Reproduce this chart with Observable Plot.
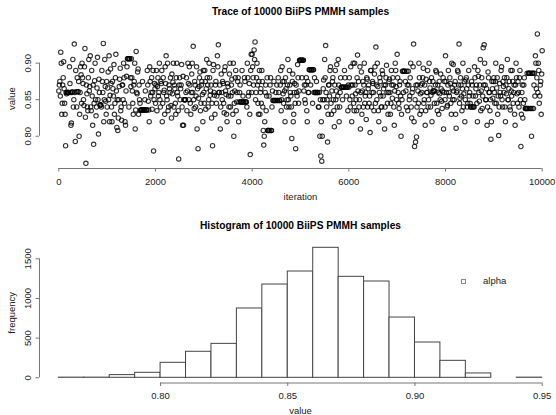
<!DOCTYPE html>
<html>
<head>
<meta charset="utf-8">
<script src="https://cdn.jsdelivr.net/npm/d3@7"></script>
<script src="https://cdn.jsdelivr.net/npm/@observablehq/plot@0.6"></script>
<style>
  html, body { margin: 0; padding: 0; background: #fff; }
  #wrap { position: relative; width: 556px; height: 415px; overflow: hidden; font-family: "Liberation Sans", Arial, sans-serif; }
  #wrap svg { display: block; }
  #legend { position: absolute; left: 460px; top: 273px; font-size: 9.5px; color: #222; }
  #legend .sq { position: absolute; left: 1px; top: 6px; width: 3px; height: 3px; border: 1px solid #888; }
  #legend .lab { position: absolute; left: 23px; top: 2px; }
</style>
</head>
<body>
<div id="wrap"></div>
<script>
// ---------- data ----------
const traceTitle = "Trace of 10000 BiiPS PMMH samples";
const histTitle = "Histogram of 10000 BiiPS PMMH samples";
const iterStep = 20; // thinned trace: values at iterations 0,20,40,... (A) and 10,30,50,... (B)
const traceValuesA = [
.862,.875,.915,.83,.87,.902,.845,.787,.858,.86,.86,.895,.86,.818,.861,.84,.926,.793,.861,.88,.861,.80,.86,.884,.90,
.872,.842,.92,.763,.858,.835,.905,.868,.84,.89,.815,.789,.876,.85,.84,.908,.803,.86,.842,.84,.875,.927,.85,.868,.83,
.84,.888,.91,.856,.872,.82,.865,.898,.845,.912,.812,.808,.85,.878,.835,.822,.87,.9,.845,.815,.882,.906,.906,.906,.88,
.906,.862,.83,.875,.81,.916,.858,.892,.87,.845,.836,.836,.836,.836,.85,.836,.836,.87,.836,.895,.855,.88,.86,.78,.872,
.845,.89,.868,.855,.9,.84,.872,.82,.88,.863,.895,.91,.85,.835,.87,.86,.842,.885,.874,.84,.865,.83,.9,.855,.769,
.88,.865,.898,.815,.815,.85,.85,.88,.862,.872,.895,.845,.86,.9,.923,.838,.87,.855,.81,.783,.868,.888,.845,.875,.82,
.86,.89,.837,.905,.87,.85,.88,.862,.825,.787,.898,.856,.87,.845,.91,.925,.86,.81,.885,.85,.872,.832,.895,.857,.82,
.868,.84,.9,.855,.878,.83,.80,.862,.89,.847,.875,.82,.86,.847,.847,.847,.847,.88,.847,.847,.9,.855,.872,.775,.912,
.912,.88,.918,.929,.86,.9,.845,.875,.83,.865,.89,.84,.788,.82,.87,.855,.808,.808,.808,.88,.808,.862,.849,.849,.849,
.849,.849,.88,.849,.87,.835,.895,.858,.875,.82,.865,.85,.905,.84,.87,.855,.797,.885,.83,.872,.783,.86,.898,.845,.904,
.904,.904,.904,.904,.87,.845,.88,.82,.86,.891,.891,.891,.891,.891,.86,.86,.86,.86,.86,.84,.80,.773,.766,.85,.877,
.905,.924,.84,.792,.87,.855,.895,.83,.875,.85,.813,.89,.862,.84,.905,.82,.86,.867,.867,.867,.867,.88,.867,.867,.835,
.867,.85,.895,.82,.87,.845,.9,.858,.835,.911,.875,.85,.81,.888,.862,.84,.9,.855,.823,.878,.865,.845,.805,.89,.86,
.872,.835,.895,.922,.85,.868,.82,.88,.855,.84,.885,.865,.81,.87,.897,.845,.86,.878,.83,.89,.852,.87,.815,.9,.868,
.912,.86,.838,.875,.80,.85,.889,.889,.889,.862,.889,.835,.87,.855,.9,.825,.865,.926,.786,.792,.799,.87,.845,.88,.858,
.835,.872,.893,.85,.815,.878,.86,.84,.9,.866,.856,.82,.875,.862,.862,.89,.845,.87,.83,.858,.885,.848,.862,.81,.875,
.91,.86,.842,.89,.855,.872,.83,.866,.898,.85,.875,.811,.862,.888,.926,.852,.87,.835,.9,.858,.82,.877,.865,.845,.89,
.86,.84,.875,.84,.84,.895,.855,.87,.82,.882,.848,.905,.862,.838,.921,.925,.87,.85,.815,.888,.86,.835,.796,.875,.852,
.88,.845,.9,.866,.83,.801,.872,.855,.895,.84,.868,.88,.82,.858,.905,.85,.875,.836,.862,.89,.845,.87,.815,.9,.858,
.875,.84,.89,.786,.86,.825,.87,.85,.838,.838,.838,.886,.886,.838,.80,.886,.838,.886,.91,.865,.94,.9,.845,.87,.83,
.917
];
const traceValuesB = [
.87,.855,.9,.845,.88,.865,.83,.86,.86,.86,.86,.872,.815,.86,.905,.85,.86,.89,.84,.861,.875,.83,.895,.845,.88,
.85,.895,.826,.87,.84,.88,.862,.91,.835,.855,.87,.845,.9,.828,.866,.85,.878,.843,.843,.89,.86,.82,.905,.848,.875,
.866,.85,.82,.892,.84,.875,.855,.83,.88,.862,.85,.825,.868,.893,.84,.87,.85,.88,.82,.862,.895,.906,.84,.906,.868,
.88,.845,.87,.9,.836,.86,.888,.83,.85,.836,.836,.875,.836,.836,.862,.836,.89,.848,.82,.875,.86,.837,.89,.85,.865,
.87,.835,.88,.86,.85,.875,.89,.845,.86,.83,.872,.855,.9,.84,.865,.88,.825,.858,.9,.87,.845,.88,.86,.835,.87,
.85,.87,.84,.882,.85,.85,.86,.835,.9,.85,.87,.83,.885,.86,.85,.875,.84,.895,.865,.852,.88,.835,.87,.857,.89,
.845,.875,.865,.88,.84,.9,.856,.87,.845,.89,.86,.83,.875,.855,.895,.86,.87,.84,.86,.875,.845,.89,.862,.83,.872,
.855,.885,.84,.87,.86,.9,.845,.88,.835,.86,.88,.847,.87,.847,.89,.855,.847,.875,.847,.84,.88,.86,.83,.89,.86,
.895,.87,.905,.85,.88,.87,.83,.89,.86,.845,.875,.808,.80,.86,.835,.88,.808,.855,.87,.808,.84,.849,.875,.849,.86,
.87,.849,.86,.849,.89,.85,.875,.845,.862,.88,.84,.87,.85,.89,.86,.84,.875,.82,.86,.845,.87,.855,.88,.862,.904,
.904,.88,.904,.862,.85,.87,.835,.875,.86,.891,.87,.891,.845,.891,.88,.86,.875,.86,.84,.86,.85,.82,.80,.865,.85,
.88,.86,.85,.83,.87,.89,.845,.862,.88,.835,.87,.85,.898,.855,.87,.84,.88,.867,.85,.867,.89,.867,.855,.867,.87,
.88,.84,.87,.855,.9,.835,.87,.85,.88,.862,.84,.895,.86,.83,.875,.87,.845,.86,.88,.84,.87,.855,.89,.84,.875,
.86,.885,.845,.87,.9,.835,.86,.875,.84,.89,.855,.87,.84,.88,.86,.83,.875,.86,.845,.87,.88,.84,.862,.89,.85,
.88,.845,.87,.855,.83,.889,.86,.889,.875,.84,.87,.889,.85,.88,.84,.86,.895,.82,.85,.87,.84,.862,.9,.83,.87,
.86,.88,.845,.87,.835,.86,.89,.85,.875,.84,.88,.86,.862,.845,.87,.888,.835,.86,.875,.85,.865,.838,.88,.86,.85,
.875,.84,.87,.86,.88,.845,.9,.85,.862,.87,.83,.86,.89,.87,.845,.88,.855,.865,.84,.875,.85,.88,.84,.87,.855,
.845,.84,.87,.855,.84,.88,.865,.845,.89,.86,.87,.835,.88,.855,.87,.9,.85,.865,.84,.88,.86,.85,.82,.865,.875,
.86,.875,.845,.88,.855,.84,.86,.89,.85,.875,.86,.84,.87,.88,.85,.865,.84,.89,.855,.875,.86,.83,.87,.88,.845,
.86,.88,.85,.83,.87,.845,.88,.838,.838,.886,.838,.886,.838,.886,.838,.886,.87,.855,.9,.88,.86,.89,.855,.875,.885
];
const traceXTicks = [0, 2000, 4000, 6000, 8000, 10000];
const traceYTicks = [0.80, 0.85, 0.90];

const histBreaks = [0.76,0.77,0.78,0.79,0.80,0.81,0.82,0.83,0.84,0.85,0.86,0.87,0.88,0.89,0.90,0.91,0.92,0.93,0.94,0.95];
const histCounts = [2,2,34,63,189,328,428,874,1176,1340,1639,1273,1214,760,445,214,55,0,2];
const histXTicks = [0.80, 0.85, 0.90, 0.95];
const histYTicks = [0, 500, 1000, 1500];
const legendLabel = "alpha";

// ---------- helpers ----------
const FONT = "Liberation Sans, Arial, Helvetica, sans-serif";
const TEXT = "#222";
const AXIS = "#777";
const expand = ([a, b]) => { const r = b - a; return [a - 0.04 * r, b + 0.04 * r]; };
const mid = ([a, b]) => (a + b) / 2;

function panel({title, xDom, yDom, xRange, yRange, height, mTop, mBottom, xTicks, yTicks, xFmt, yFmt, xLabel, yLabel, data}) {
  return Plot.plot({
    width: 556, height,
    marginLeft: 39, marginRight: 0, marginTop: mTop, marginBottom: mBottom,
    style: {fontFamily: FONT, fontSize: "9.5px", color: AXIS, background: "white", overflow: "visible"},
    x: {domain: xDom, range: xRange, ticks: xTicks, tickSize: 3.5, tickFormat: () => "", label: null},
    y: {domain: yDom, range: yRange, ticks: yTicks, tickSize: 3.5, tickFormat: () => "", label: null},
    marks: [
      ...data,
      Plot.ruleY([yDom[0]], {x1: xTicks[0], x2: xTicks[xTicks.length - 1], stroke: AXIS, strokeWidth: 1}),
      Plot.ruleX([xDom[0]], {y1: yTicks[0], y2: yTicks[yTicks.length - 1], stroke: AXIS, strokeWidth: 1}),
      Plot.text(xTicks, {x: d => d, y: yDom[0], dy: 13, text: xFmt, fill: TEXT, fontSize: 9.5}),
      Plot.text(yTicks, {x: xDom[0], y: d => d, dx: -12, text: yFmt, rotate: -90, textAnchor: "middle", fill: TEXT, fontSize: 9.5}),
      Plot.text([xLabel], {x: mid(xDom), y: yDom[0], dy: 28, fill: TEXT, fontSize: 9.5}),
      Plot.text([yLabel], {x: xDom[0], y: mid(yDom), dx: -27.5, rotate: -90, textAnchor: "middle", fill: TEXT, fontSize: 9.5}),
      Plot.text([title], {x: mid(xDom), y: yDom[1], dy: -16.6, fill: "#000", fontSize: 10.2, fontWeight: "bold"})
    ]
  });
}

// ---------- trace ----------
const trace = [
  ...traceValuesA.map((v, i) => ({iteration: i * iterStep, value: v})),
  ...traceValuesB.map((v, i) => ({iteration: i * iterStep + iterStep / 2, value: v}))
];
const tXDom = expand(d3.extent(trace, d => d.iteration));
const tYDom = expand(d3.extent(trace, d => d.value));

const traceChart = panel({
  title: traceTitle, xDom: tXDom, yDom: tYDom, xRange: [39, 561], yRange: [168, 28.2],
  height: 208, mTop: 28, mBottom: 40, xTicks: traceXTicks, yTicks: traceYTicks,
  xFmt: d => String(d), yFmt: d => d.toFixed(2), xLabel: "iteration", yLabel: "value",
  data: [Plot.dot(trace, {x: "iteration", y: "value", r: 2.2, stroke: "#000", strokeWidth: 1.1, strokeOpacity: 0.8, fill: "none"})]
});

// ---------- histogram ----------
const bins = histCounts.map((c, i) => ({x0: histBreaks[i], x1: histBreaks[i + 1], count: c}));
const hXDom = expand(d3.extent(histBreaks));
const hYDom = expand([0, d3.max(histCounts)]);

const histChart = panel({
  title: histTitle, xDom: hXDom, yDom: hYDom, xRange: [39, 561], yRange: [174.5, 34.1],
  height: 207, mTop: 34, mBottom: 32.5, xTicks: histXTicks, yTicks: histYTicks,
  xFmt: d => d.toFixed(2), yFmt: d => String(d), xLabel: "value", yLabel: "frequency",
  data: [Plot.rect(bins, {x1: "x0", x2: "x1", y1: 0, y2: "count", fill: "white", stroke: "#444", strokeWidth: 1})]
});

const wrap = document.getElementById("wrap");
wrap.appendChild(traceChart);
wrap.appendChild(histChart);

const legend = document.createElement("div");
legend.id = "legend";
legend.innerHTML = '<div class="sq"></div><div class="lab"></div>';
legend.querySelector(".lab").textContent = legendLabel;
wrap.appendChild(legend);
</script>
</body>
</html>
